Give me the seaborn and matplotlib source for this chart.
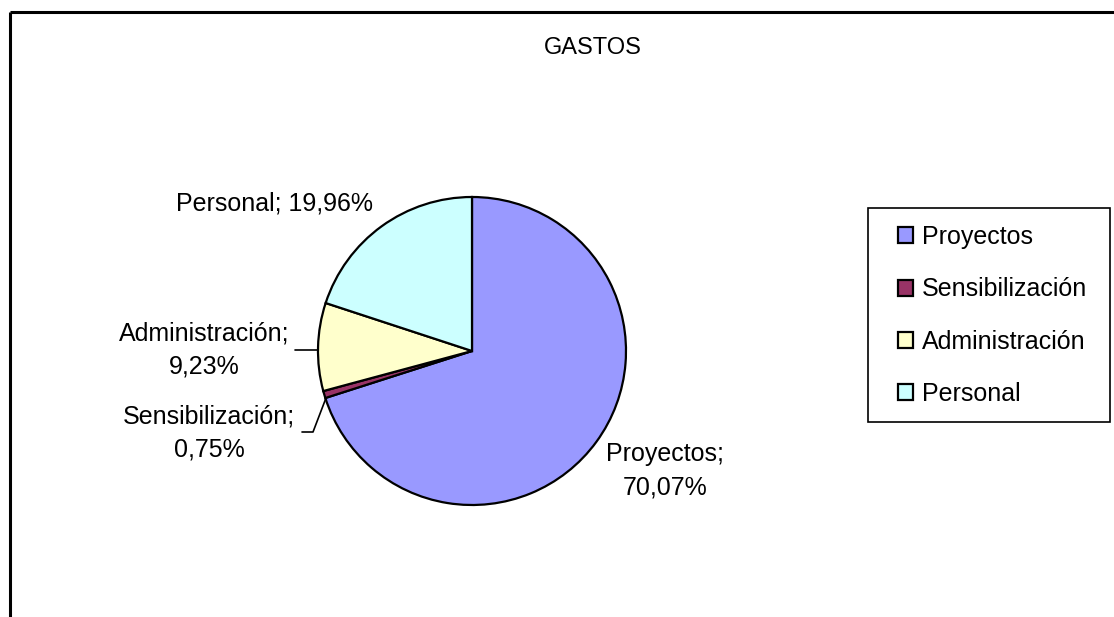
import matplotlib
matplotlib.use("Agg")
import matplotlib.pyplot as plt
from matplotlib.lines import Line2D
from matplotlib.patches import Rectangle
import seaborn as sns

# ---- data ----
categories = ["Proyectos", "Sensibilización", "Administración", "Personal"]
values = [70.07, 0.75, 9.23, 19.96]
label_texts = ["Proyectos;\n70,07%", "Sensibilización;\n0,75%",
               "Administración;\n9,23%", "Personal; 19,96%"]
colors = ["#9999FF", "#993366", "#FFFFCC", "#CCFFFF"]
title = "GASTOS"

sns.set_theme(style="white")
plt.rcParams['font.family'] = ['Liberation Sans', 'DejaVu Sans']
plt.rcParams['text.color'] = 'black'

W, H = 1114, 617
fig = plt.figure(figsize=(W / 100, H / 100), dpi=100)
fig.patch.set_facecolor("white")
ax = fig.add_axes([0, 0, 1, 1])

def Y(py):
    return H - py

cx, cy, r = 472, Y(351), 154
wedges, _ = ax.pie(values, colors=colors, startangle=90, counterclock=False,
                   center=(cx, cy), radius=r, frame=True,
                   wedgeprops=dict(edgecolor="black", linewidth=1.6))
ax.set_xlim(0, W)
ax.set_ylim(0, H)
ax.set_aspect("equal")
ax.axis("off")

# outer frame (top and left edges visible)
ax.add_line(Line2D([10, W], [Y(12), Y(12)], color="black", lw=2.2, solid_capstyle="butt"))
ax.add_line(Line2D([10, 10], [Y(12), 0], color="black", lw=2.2, solid_capstyle="butt"))

fs = 18
ax.text(593, Y(48), title, ha="center", va="center", fontsize=17, color="black")

# data labels
pos = [(665, Y(471)), (209, Y(433)), (204, Y(350)), (275, Y(204))]
for t, (x, y) in zip(label_texts, pos):
    ax.text(x, y, t, ha="center", va="center", fontsize=fs, linespacing=1.5,
            color="black")

# leader lines
ax.add_line(Line2D([295, 318], [Y(350), Y(350)], color="black", lw=1.2))
ax.add_line(Line2D([302, 313, 326], [Y(432), Y(432), Y(398)], color="black", lw=1.2))

# legend box
ax.add_patch(Rectangle((868, Y(422)), 242, 214, facecolor="white",
                       edgecolor="black", lw=1.2, zorder=3))
leg = ax.legend(wedges, categories, loc="center", bbox_to_anchor=(992.5, Y(315.5)),
                bbox_transform=ax.transData, fontsize=fs, frameon=False,
                handlelength=0.6, handleheight=0.6, handletextpad=0.35,
                labelspacing=1.13, borderpad=0.0, labelcolor="black")
leg.set_zorder(4)

fig.savefig("out.png", dpi=100, facecolor="white")
